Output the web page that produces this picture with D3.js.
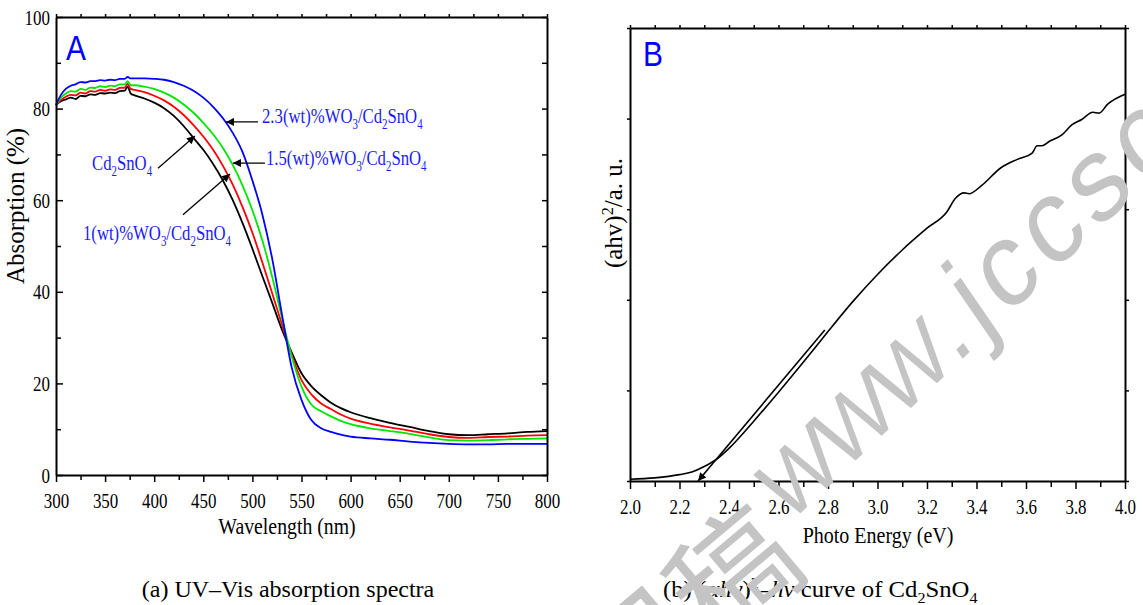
<!DOCTYPE html>
<html>
<head>
<meta charset="utf-8">
<script src="https://cdn.jsdelivr.net/npm/d3@7/dist/d3.min.js"></script>
<style>
  body { margin: 0; background: #fff; }
</style>
</head>
<body>
<script>
// ---- panel A : UV-Vis absorption spectra ----
var wavelength = [300, 305, 310, 315, 320, 325, 330, 335, 340, 345, 350, 355, 360, 365, 370, 373, 376, 380, 390, 400,
    410, 420, 430, 440, 450, 460, 470, 480, 490, 500, 510, 520, 530, 540, 550, 560, 570, 580, 590, 600,
    620, 640, 660, 680, 700, 720, 740, 760, 780, 800];

var absCd2SnO4 = [80.8, 81.6, 82.0, 82.4, 82.1, 82.8, 82.7, 83.1, 83.0, 83.4, 83.3, 83.5, 83.4, 83.8, 83.9, 84.8, 83.3, 82.9, 82.2, 81.3,
    80.1, 78.4, 76.2, 73.6, 71.0, 67.9, 64.3, 60.0, 55.0, 49.4, 43.5, 37.7, 31.8, 26.8, 22.2, 19.4, 17.4, 15.8, 14.6, 13.7,
    12.4, 11.4, 10.5, 9.6, 8.9, 8.7, 8.9, 9.1, 9.4, 9.6];
var abs1wt = [80.7, 81.9, 82.6, 83.0, 82.9, 83.5, 83.3, 83.8, 83.7, 84.1, 83.9, 84.2, 84.1, 84.5, 84.6, 85.4, 84.3, 84.1, 83.6, 82.8,
    81.8, 80.4, 78.6, 76.4, 73.9, 71.0, 67.5, 63.4, 58.5, 52.9, 46.5, 39.8, 32.9, 26.2, 20.7, 17.6, 15.6, 14.4, 13.2, 12.3,
    11.2, 10.4, 9.7, 8.9, 8.3, 8.1, 8.3, 8.4, 8.6, 8.7];
var abs15wt = [80.8, 82.4, 83.3, 83.8, 83.7, 84.3, 84.1, 84.6, 84.5, 84.9, 84.7, 85.0, 84.9, 85.3, 85.3, 86.0, 85.1, 85.1, 84.8, 84.3,
    83.5, 82.4, 80.9, 79.1, 76.9, 74.4, 71.4, 67.7, 63.2, 57.8, 51.3, 43.4, 34.4, 25.9, 19.3, 15.4, 13.9, 12.8, 11.8, 11.1,
    10.2, 9.6, 9.0, 8.2, 7.6, 7.5, 7.6, 7.8, 7.9, 8.0];
var abs23wt = [80.8, 83.0, 84.3, 85.0, 85.3, 85.8, 85.7, 86.0, 86.0, 86.2, 86.1, 86.3, 86.2, 86.5, 86.5, 86.9, 86.6, 86.6, 86.6, 86.5,
    86.3, 85.8, 85.0, 83.9, 82.4, 80.4, 77.9, 74.7, 70.5, 64.3, 57.0, 47.4, 35.2, 23.5, 16.4, 12.0, 10.2, 9.4, 8.8, 8.4,
    8.0, 7.7, 7.3, 7.0, 6.8, 6.7, 6.7, 6.8, 6.8, 6.8];

var seriesA = [absCd2SnO4, abs1wt, abs15wt, abs23wt];
var seriesColors = ["#000000", "#ff0000", "#00e600", "#0000ff"];

// label text (_ = subscript), label anchor and arrow [from, to] in data units
var labelTexts = ["Cd_2SnO_4", "1(wt)%WO_3/Cd_2SnO_4", "1.5(wt)%WO_3/Cd_2SnO_4", "2.3(wt)%WO_3/Cd_2SnO_4"];
var labelAt = [[336.7, 66.6], [327.5, 51.3], [513.8, 67.7], [509.8, 76.9]];
var arrowFrom = [[403.9, 67.0], [429.3, 56.8], [512.8, 68.1], [505.7, 77.1]];
var arrowTo = [[441.5, 74.0], [477.2, 65.7], [480.2, 68.1], [473.1, 77.1]];

var xTicksA = [300, 350, 400, 450, 500, 550, 600, 650, 700, 750, 800];
var xMinorA = [325, 375, 425, 475, 525, 575, 625, 675, 725, 775];
var yTicksA = [0, 20, 40, 60, 80, 100];
var yMinorA = [10, 30, 50, 70, 90];

// ---- panel B : (ahv)^2 - hv curve ----
var energy = [2.00, 2.10, 2.20, 2.25, 2.30, 2.35, 2.40, 2.50, 2.60, 2.70, 2.80, 2.90, 3.00, 3.10, 3.20, 3.28, 3.315,
    3.35, 3.37, 3.42, 3.50, 3.565, 3.625, 3.645, 3.665, 3.695, 3.745, 3.785, 3.825, 3.87, 3.895, 3.93, 4.00];
var ahv2 = [0.02, 0.035, 0.07, 0.10, 0.16, 0.24, 0.36, 0.66, 0.98, 1.31, 1.65, 1.98, 2.28, 2.55, 2.79, 2.97, 3.12,
    3.18, 3.17, 3.26, 3.46, 3.55, 3.62, 3.70, 3.70, 3.75, 3.82, 3.93, 3.99, 4.07, 4.06, 4.16, 4.27];
var tangentE = [2.787, 2.275];
var tangentY = [1.667, 0.0];

var xTicksB = [2.0, 2.2, 2.4, 2.6, 2.8, 3.0, 3.2, 3.4, 3.6, 3.8, 4.0];
var xMinorB = [2.1, 2.3, 2.5, 2.7, 2.9, 3.1, 3.3, 3.5, 3.7, 3.9];
var yTicksB = [0, 1, 2, 3, 4, 5];

var serif = "Liberation Serif";
var sans = "Liberation Sans";
var textBlue = "#1a1aff";

var svg = d3.select("body").append("svg")
    .attr("width", 1143)
    .attr("height", 605)
    .attr("font-family", serif);

svg.append("defs").append("marker")
    .attr("id", "arrowhead")
    .attr("viewBox", "0 0 10 10")
    .attr("refX", 10).attr("refY", 5)
    .attr("markerWidth", 11).attr("markerHeight", 8)
    .attr("markerUnits", "userSpaceOnUse")
    .attr("orient", "auto")
    .append("path")
    .attr("d", "M0,0 L10,5 L0,10 z")
    .attr("fill", "#000");

// text with _sub, ^sup and ~italic~ parts, squeezed along the line by sx
function richText(g, x, y, str, size, sx, anchor, color, rotate) {
    var t = g.append("text")
        .attr("transform", "translate(" + x + "," + y + ")" + (rotate ? " rotate(" + rotate + ")" : "") +
            " scale(" + sx + ",1)")
        .attr("font-size", size)
        .attr("font-family", serif)
        .attr("text-anchor", anchor)
        .attr("fill", color);
    var buf = "", italic = false, shift = 0;
    function push(s, kind) {
        if (!s) return;
        var target = kind === "sub" ? size * 0.27 : kind === "sup" ? -size * 0.38 : 0;
        var ts = t.append("tspan").text(s).attr("dy", target - shift);
        if (kind) ts.attr("font-size", size * 0.65);
        if (italic) ts.attr("font-style", "italic");
        shift = target;
    }
    for (var i = 0; i < str.length; i++) {
        var c = str[i];
        if (c === "_" || c === "^") {
            push(buf); buf = "";
            push(str[i + 1], c === "_" ? "sub" : "sup");
            i++;
        } else if (c === "~") {
            push(buf); buf = "";
            italic = !italic;
        } else {
            buf += c;
        }
    }
    push(buf);
    return t;
}

function styleAxis(g, fontSize, sx) {
    g.attr("font-family", serif).attr("font-size", fontSize);
    g.select(".domain").attr("stroke-width", 2);
    g.selectAll(".tick line").attr("stroke-width", 1.5);
    g.selectAll(".tick text")
        .attr("font-family", serif)
        .attr("font-size", fontSize)
        .attr("fill", "#000")
        .attr("transform", "scale(" + sx + ",1)");
}

function minorTicks(g) {
    g.select(".domain").remove();
    g.selectAll("line").attr("stroke-width", 1.5);
}

// ================= panel A =================
var marginA = { top: 17, left: 56 };
var widthA = 491, heightA = 458;

var xA = d3.scaleLinear().domain([300, 800]).range([0, widthA]);
var yA = d3.scaleLinear().domain([0, 100]).range([heightA, 0]);

var gA = svg.append("g")
    .attr("transform", "translate(" + marginA.left + "," + marginA.top + ")");

var lineA = d3.line()
    .x(function (d) { return xA(d[0]); })
    .y(function (d) { return yA(d[1]); })
    .curve(d3.curveMonotoneX);

gA.append("g").attr("class", "curves")
    .selectAll("path")
    .data(seriesA)
    .enter().append("path")
    .attr("d", function (s) { return lineA(s.map(function (v, i) { return [wavelength[i], v]; })); })
    .attr("fill", "none")
    .attr("stroke", function (s, i) { return seriesColors[i]; })
    .attr("stroke-width", 1.8);

// axes
var axB = gA.append("g").attr("transform", "translate(0," + heightA + ")")
    .call(d3.axisBottom(xA).tickValues(xTicksA).tickSizeInner(7).tickSizeOuter(0).tickPadding(10));
styleAxis(axB, 22, 0.77);
gA.append("g").attr("transform", "translate(0," + heightA + ")")
    .call(d3.axisBottom(xA).tickValues(xMinorA).tickSize(5).tickFormat(""))
    .call(minorTicks);

var axT = gA.append("g")
    .call(d3.axisTop(xA).tickValues(xTicksA.concat(xMinorA)).tickSizeInner(3).tickSizeOuter(0).tickFormat(""));
styleAxis(axT, 22, 1);

var axL = gA.append("g")
    .call(d3.axisLeft(yA).tickValues(yTicksA).tickSizeInner(-7).tickSizeOuter(0).tickPadding(8));
styleAxis(axL, 22, 0.77);
gA.append("g")
    .call(d3.axisLeft(yA).tickValues(yMinorA).tickSize(-5).tickFormat(""))
    .call(minorTicks);

var axR = gA.append("g").attr("transform", "translate(" + widthA + ",0)")
    .call(d3.axisRight(yA).tickValues(yTicksA.concat(yMinorA)).tickSizeInner(-5).tickSizeOuter(0).tickFormat(""));
styleAxis(axR, 22, 1);

// axis titles
richText(gA, 231, 517, "Wavelength (nm)", 23, 0.86, "middle", "#000");
richText(gA, -32, 189, "Absorption (%)", 25, 1.0, "middle", "#000", -90);

// panel letter
gA.append("text")
    .attr("transform", "translate(10,43) scale(0.83,1)")
    .attr("font-family", sans)
    .attr("font-size", 36)
    .attr("fill", "#0000ff")
    .text("A");

// series labels and arrows
labelTexts.forEach(function (s, i) {
    richText(gA, xA(labelAt[i][0]), yA(labelAt[i][1]), s, 22, 0.76, "start", textBlue);
    gA.append("line")
        .attr("x1", xA(arrowFrom[i][0])).attr("y1", yA(arrowFrom[i][1]))
        .attr("x2", xA(arrowTo[i][0])).attr("y2", yA(arrowTo[i][1]))
        .attr("stroke", "#000").attr("stroke-width", 1.3)
        .attr("marker-end", "url(#arrowhead)");
});

// caption
richText(svg, 288, 597, "(a) UV\u2013Vis absorption spectra", 24, 1.0, "middle", "#000");

// ================= panel B =================
var marginB = { top: 28, left: 630 };
var widthB = 495, heightB = 453;

var xB = d3.scaleLinear().domain([2.0, 4.0]).range([0, widthB]);
var yB = d3.scaleLinear().domain([0, 5]).range([heightB, 0]);

var gB = svg.append("g")
    .attr("transform", "translate(" + marginB.left + "," + marginB.top + ")");

var lineB = d3.line()
    .x(function (d) { return xB(d[0]); })
    .y(function (d) { return yB(d[1]); })
    .curve(d3.curveMonotoneX);

gB.append("path")
    .attr("d", lineB(energy.map(function (e, i) { return [e, ahv2[i]]; })))
    .attr("fill", "none")
    .attr("stroke", "#000")
    .attr("stroke-width", 1.6);

gB.append("line")
    .attr("x1", xB(tangentE[0])).attr("y1", yB(tangentY[0]))
    .attr("x2", xB(tangentE[1])).attr("y2", yB(tangentY[1]))
    .attr("stroke", "#000").attr("stroke-width", 1.6)
    .attr("marker-end", "url(#arrowhead)");

var bxB = gB.append("g").attr("transform", "translate(0," + heightB + ")")
    .call(d3.axisBottom(xB).tickValues(xTicksB).tickSizeInner(8).tickSizeOuter(0).tickPadding(9)
        .tickFormat(d3.format(".1f")));
styleAxis(bxB, 22, 0.77);
gB.append("g").attr("transform", "translate(0," + heightB + ")")
    .call(d3.axisBottom(xB).tickValues(xMinorB).tickSize(6).tickFormat(""))
    .call(minorTicks);

var txB = gB.append("g")
    .call(d3.axisTop(xB).tickValues(xTicksB.concat(xMinorB)).tickSizeInner(3).tickSizeOuter(0).tickFormat(""));
styleAxis(txB, 22, 1);

var lyB = gB.append("g")
    .call(d3.axisLeft(yB).tickValues(yTicksB).tickSizeInner(3).tickSizeOuter(0).tickFormat(""));
styleAxis(lyB, 22, 1);

var ryB = gB.append("g").attr("transform", "translate(" + widthB + ",0)")
    .call(d3.axisRight(yB).tickValues(yTicksB).tickSizeInner(4).tickSizeOuter(0).tickFormat(""));
styleAxis(ryB, 22, 1);

richText(gB, 248, 515, "Photo Energy (eV)", 23, 0.87, "middle", "#000");
richText(gB, -8, 185, "(ahv)^2/a. u.", 25, 1, "middle", "#000", -90);

gB.append("text")
    .attr("transform", "translate(13,38) scale(0.83,1)")
    .attr("font-family", sans)
    .attr("font-size", 36)
    .attr("fill", "#0000ff")
    .text("B");

richText(svg, 663, 597, "(b) (~\u03b1h\u03bd~)^2\u2013~h\u03bd~ curve of Cd_2SnO_4", 24, 1.03, "start", "#000");

// ================= watermark =================
var wm = svg.append("g")
    .attr("fill", "#c4c4c4")
    .attr("font-family", sans)
    .attr("transform", "translate(956,365) scale(0.85,1) rotate(-39)");
wm.append("text").attr("x", -4).attr("y", 0).attr("text-anchor", "end")
    .attr("font-size", 94).attr("letter-spacing", -5).text("WWW");
wm.append("text").attr("x", 0).attr("y", 0).attr("font-size", 110).text(".");
wm.append("text").attr("x", 40).attr("y", 0).attr("font-size", 122)
    .attr("letter-spacing", 8).text("jccsc");

svg.append("text")
    .attr("transform", "translate(728,568) rotate(-40)")
    .attr("fill", "#c4c4c4")
    .attr("font-family", "Noto Sans CJK SC")
    .attr("font-size", 125)
    .attr("text-anchor", "end")
    .attr("dominant-baseline", "central")
    .attr("dx", 62)
    .text("用稿");
</script>
</body>
</html>
